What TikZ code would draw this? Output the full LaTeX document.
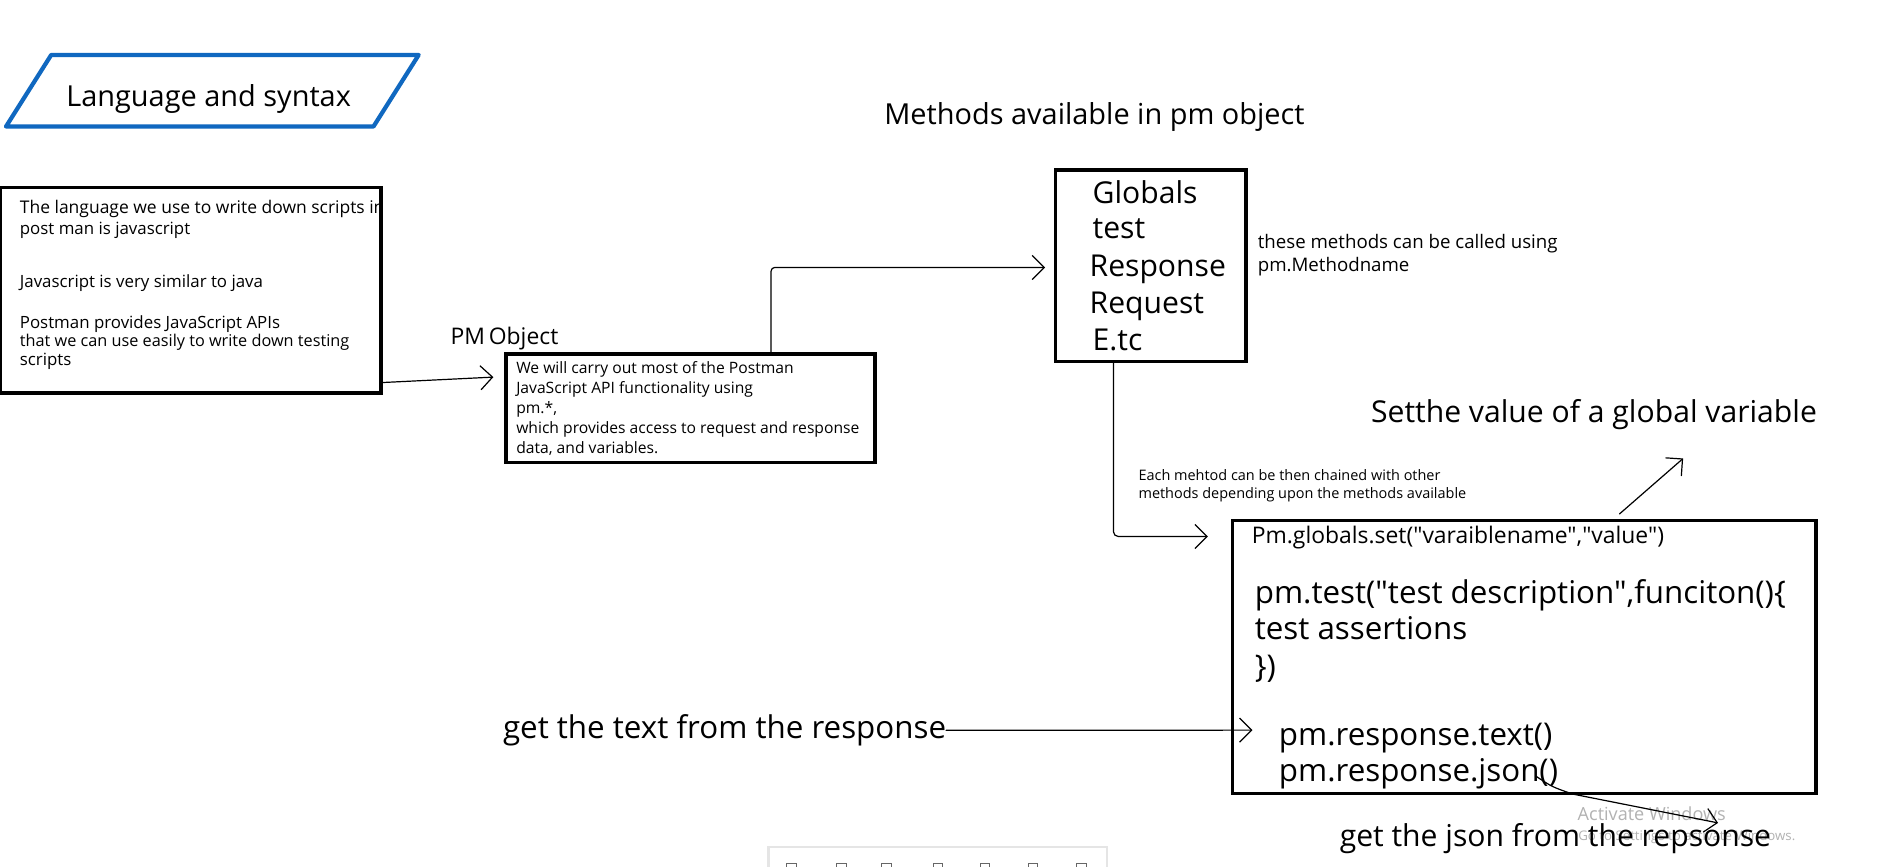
\documentclass[tikz,border=0pt]{standalone}
\usepackage{fontspec}
\setmainfont[Ligatures=TeXOff]{Open Sans}
\usetikzlibrary{arrows.meta}
\definecolor{pblue}{RGB}{16,104,192}
\definecolor{wmark}{RGB}{178,178,178}
\newcommand{\fs}[1]{\fontsize{#1}{#1}\selectfont}
\begin{document}
\begin{tikzpicture}[x=1pt,y=-1pt,
  box/.style={draw=black,line width=3pt,inner sep=0pt},
  txt/.style={anchor=base west,inner sep=0pt,outer sep=0pt},
  conn/.style={draw=black,line width=1pt,line cap=round,line join=round},
  barb/.style={-{Straight Barb[length=10pt,width=20pt,line width=1pt]}},
]
\useasboundingbox (0,0) rectangle (1568.7,719.6);
\fill[white] (0,0) rectangle (1568.7,719.6);

% title parallelogram
\coordinate (pa) at (42.5,45.6);
\coordinate (pb) at (347.5,45.6);
\coordinate (pc) at (310,105);
\coordinate (pd) at (5,105);
\draw[pblue,line width=3.5pt,line join=round] (pa) -- (pb) -- (pc) -- (pd) -- cycle;
\node[txt,font=\fs{24}] (title) at (55,88.5) {Language and syntax};

% boxes
\node[box,minimum width=316pt,minimum height=170.5pt] (lang) at (158,240.75) {};
\node[box,minimum width=306pt,minimum height=90.2pt] (pm) at (573,338.9) {};
\node[box,minimum width=158.5pt,minimum height=159pt] (methods) at (955.15,220.5) {};
\node[box,minimum width=484.5pt,minimum height=226.6pt] (big) at (1265.25,545.3) {};

% left box text
\begin{scope}
\clip (0,150) rectangle (318,330);
\node[txt,font=\fs{14.5}] (l1) at (16.5,177) {The language we use to write down scripts in};
\end{scope}
\node[txt,font=\fs{14}] (l2) at (16.5,195) {post man is javascript};
\node[txt,font=\fs{14}] (l3) at (16.5,239) {Javascript is very similar to java};
\node[txt,font=\fs{14}] (l4) at (16.5,272.5) {Postman provides JavaScript APIs};
\node[txt,font=\fs{13.5}] (l5) at (16.5,288) {that we can use easily to write down testing};
\node[txt,font=\fs{14}] (l6) at (16.5,303) {scripts};

% PM object
\node[txt,font=\fs{19}] (pmlabel) at (374,286) {PM\,Object};
\node[txt,font=\fs{13}] (p1) at (428.5,310) {We will carry out most of the Postman};
\node[txt,font=\fs{13}] (p2) at (428.5,326.5) {JavaScript API functionality using};
\node[txt,font=\fs{13}] (p3) at (428.5,343) {pm.*,};
\node[txt,font=\fs{13}] (p4) at (428.5,360) {which provides access to request and response};
\node[txt,font=\fs{13}] (p5) at (428.5,376.5) {data, and variables.};

% methods
\node[txt,font=\fs{24}] (mtitle) at (734,103) {Methods available in pm object};
\node[txt,font=\fs{25}] (m1) at (906.9,169) {Globals};
\node[txt,font=\fs{25}] (m2) at (906.9,198) {test};
\node[txt,font=\fs{25}] (m3) at (904.4,229.6) {Response};
\node[txt,font=\fs{25}] (m4) at (904.4,260) {Request};
\node[txt,font=\fs{25}] (m5) at (906.9,290.5) {E.tc};
\node[txt,font=\fs{15.5}] (n1) at (1044,206) {these methods can be called using};
\node[txt,font=\fs{15.5}] (n2) at (1044,225.5) {pm.Methodname};

\node[txt,font=\fs{12}] (ch1) at (945,398.5) {Each mehtod can be then chained with other};
\node[txt,font=\fs{12}] (ch2) at (945,413.7) {methods depending upon the methods available};

\node[txt,font=\fs{25}] (setval) at (1138,351) {Setthe value of a global variable};

% code box
\node[txt,font=\fs{19}] (c1) at (1039,451) {Pm.globals.set("varaiblename","value")};
\node[txt,font=\fs{26}] (c2) at (1041.5,501) {pm.test("test description",funciton()\{};
\node[txt,font=\fs{26}] (c3) at (1041.5,531) {test assertions};
\node[txt,font=\fs{26}] (c4) at (1041.5,562) {\})};
\node[txt,font=\fs{26}] (c5) at (1061.5,618.5) {pm.response.text()};
\node[txt,font=\fs{26}] (c6) at (1061.5,649) {pm.response.json()};

% watermark
\node[txt,font=\fs{15},text=wmark] (wm1) at (1309.5,680.6) {Activate Windows};
\node[txt,font=\fs{11},text=wmark] (wm2) at (1310,698) {Go to Settings to activate Windows.};

\node[txt,font=\fs{26}] (gettext) at (417.5,613) {get the text from the response};
\node[txt,font=\fs{25}] (getjson) at (1112,703) {get the json from the repsonse};

% connectors
\draw[conn,barb] ([yshift=10pt]lang.south east) -- ([xshift=-9pt,yshift=25.9pt]pm.west);
\draw[conn,barb,rounded corners=3pt] ([xshift=67pt]pm.north) |- ([xshift=-7pt,yshift=-1.5pt]methods.west);
\draw[conn,barb,rounded corners=4pt] ([xshift=-31pt]methods.south) |- ([xshift=-19pt,yshift=100pt]big.west);
\coordinate (settip) at (1397,380.5);
\draw[conn,barb] ([xshift=79pt,yshift=4pt]big.north) -- (settip);
\draw[conn,barb] (gettext.east) -- ([xshift=18pt,yshift=-60.7pt]big.west);
\coordinate (jsonstart) at (1275.4,644.6);
\coordinate (jsontip) at (1426,683);
\draw[conn,barb] (jsonstart) .. controls (1288,653) .. (1305,659) -- (jsontip);

% toolbar (partial, bottom edge)
\fill[black!10] (637,702) rectangle (920,719.6);
\fill[white] (639,704) rectangle (918,719.6);
\foreach \ix in {657,698.6,736,778.6,817.5,857.4,897.8}{
  \draw[black!60,line width=0.8pt] (\ix-4,719.6) -- (\ix-4,716.5) -- (\ix+4,716.5) -- (\ix+4,719.6);
}
\end{tikzpicture}
\end{document}
